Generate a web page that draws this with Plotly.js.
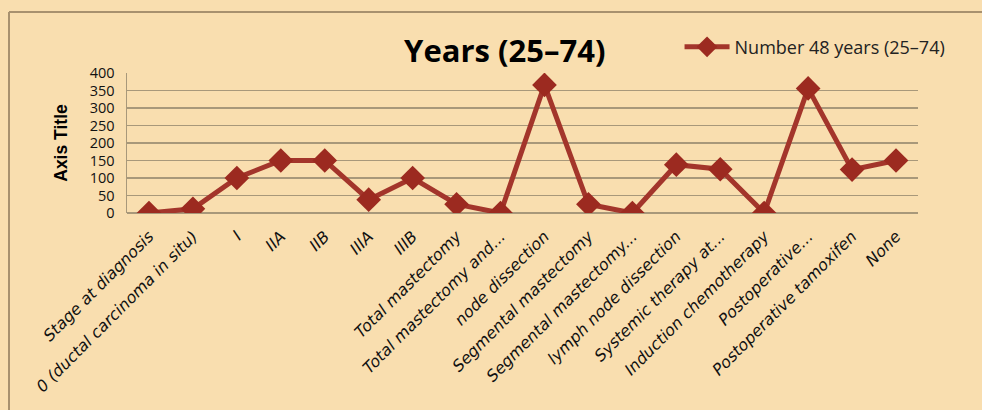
<!DOCTYPE html>
<html>
<head>
<meta charset="utf-8">
<script src="https://cdn.plot.ly/plotly-3.0.1.min.js"></script>
<style>
html,body{margin:0;padding:0;background:#F9DEAF;overflow:hidden;}
#chart{width:982px;height:410px;}
</style>
</head>
<body>
<div id="chart"></div>
<script>
const categories = [
  "Stage at diagnosis",
  "0 (ductal carcinoma in situ)",
  "I",
  "IIA",
  "IIB",
  "IIIA",
  "IIIB",
  "Total mastectomy",
  "Total mastectomy and...",
  "node dissection",
  "Segmental mastectomy",
  "Segmental mastectomy...",
  "lymph node dissection",
  "Systemic therapy at...",
  "Induction chemotherapy",
  "Postoperative...",
  "Postoperative tamoxifen",
  "None"
];
const values = [0, 12, 100, 150, 150, 38, 100, 25, 0, 366, 25, 0, 138, 125, 0, 356, 124, 150];
const seriesName = "Number 48 years (25–74)";
const titleText = "Years (25–74)";
const yTitle = "Axis Title";
const yTicks = [0, 50, 100, 150, 200, 250, 300, 350, 400];

const W = 982, H = 410, M = {l: 127, r: 64, t: 73, b: 197};
const pw = W - M.l - M.r, ph = H - M.t - M.b;
const px2x = p => (p - M.l) / pw;
const px2y = p => (H - M.b - p) / ph;

const trace = {
  x: categories.map((c, i) => i),
  y: values,
  type: "scatter",
  mode: "lines+markers",
  name: seriesName,
  line: {color: "#A3352B", width: 5},
  marker: {symbol: "diamond", size: 19, color: "#9C2A20"},
  showlegend: true
};

const frameStyle = {color: "#A8916F", width: 2};
const layout = {
  width: W, height: H,
  paper_bgcolor: "#F9DEAF",
  plot_bgcolor: "#F9DEAF",
  margin: Object.assign({autoexpand: false}, M),
  title: {
    text: "<b>" + titleText + "</b>",
    font: {family: "Open Sans", size: 31, color: "#000"},
    x: 0.514, xref: "container", xanchor: "center",
    y: 0.875, yref: "container", yanchor: "middle"
  },
  showlegend: true,
  legend: {
    xref: "container", yref: "container",
    x: 0.692, xanchor: "left",
    y: 0.885, yanchor: "middle",
    bgcolor: "rgba(0,0,0,0)",
    font: {family: "Open Sans", size: 18, color: "#222"},
    itemwidth: 45
  },
  shapes: [
    {type: "line", xref: "paper", yref: "paper", x0: px2x(9), x1: px2x(9), y0: px2y(12), y1: px2y(412), line: frameStyle, layer: "below"},
    {type: "line", xref: "paper", yref: "paper", x0: px2x(9), x1: px2x(984), y0: px2y(12), y1: px2y(12), line: frameStyle, layer: "below"}
  ],
  xaxis: {
    range: [-0.5, 17.5],
    tickmode: "array",
    tickvals: categories.map((c, i) => i),
    ticktext: categories,
    tickangle: -45,
    tickfont: {family: "DejaVu Sans", size: 16, color: "#111", style: "italic"},
    ticklabelstandoff: 10,
    showgrid: false,
    zeroline: false,
    showline: false,
    ticks: "",
    fixedrange: true
  },
  yaxis: {
    range: [0, 400],
    tickmode: "array",
    tickvals: yTicks,
    ticktext: yTicks.map(String),
    tickfont: {family: "Open Sans", size: 14.5, color: "#111"},
    showgrid: true,
    gridcolor: "#A8987A",
    gridwidth: 1.5,
    zeroline: true,
    zerolinecolor: "#A8987A",
    zerolinewidth: 1.5,
    showline: true,
    linecolor: "#A8987A",
    linewidth: 1.5,
    ticks: "",
    ticklabelstandoff: 8,
    title: {text: "<b>" + yTitle + "</b>", font: {family: "Liberation Sans", size: 17.5, color: "#000"}, standoff: 17},
    fixedrange: true
  }
};

Plotly.newPlot("chart", [trace], layout, {displayModeBar: false, staticPlot: true});
</script>
</body>
</html>
